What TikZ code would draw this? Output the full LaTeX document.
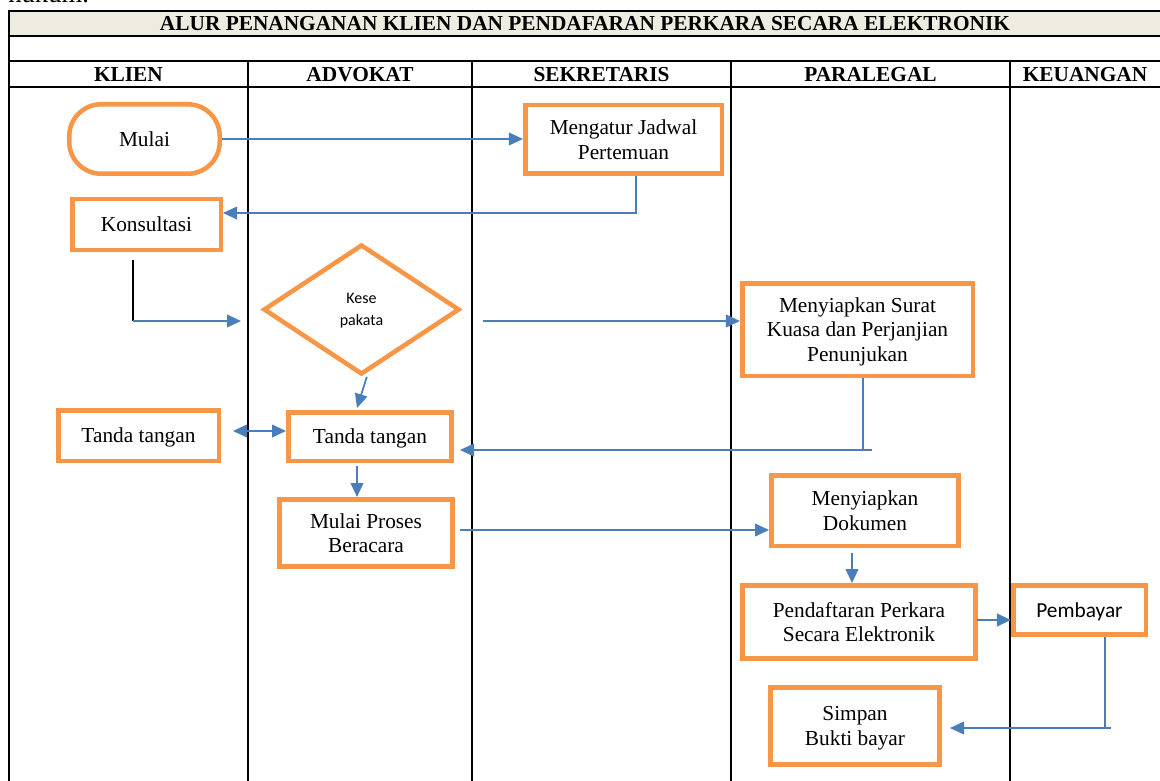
\documentclass[tikz,border=0pt]{standalone}
\usepackage{fontspec}
\setmainfont{Liberation Serif}
\newfontfamily\calfont{Carlito}
\usetikzlibrary{shapes.geometric,arrows.meta}
\definecolor{orng}{HTML}{F79646}
\definecolor{blu}{HTML}{4A7EBB}
\definecolor{beige}{HTML}{EEECE1}
\begin{document}
\begin{tikzpicture}[x=0.75pt,y=-0.75pt,
 box/.style={draw=orng, fill=white, line width=3.4pt, rectangle, align=center, inner sep=0pt, text depth=0pt, font=\fontsize{16}{18.5}\selectfont},
 conn/.style={draw=blu, line width=1.3pt, -{Triangle[length=10.5pt,width=9.5pt]}},
 plain/.style={draw=blu, line width=1.3pt},
 grid/.style={draw=black, line width=1.5pt},
 hdr/.style={font=\bfseries\fontsize{16}{18}\selectfont, inner sep=0pt}]
\useasboundingbox (0,0) rectangle (1160,781);
\clip (0,0) rectangle (1160,781);
\fill[white] (0,0) rectangle (1160,781);
\node[anchor=base west, font=\fontsize{20}{20}\selectfont, inner sep=0pt] (hk) at (8,3) {hukum.};
% table
\fill[beige] (9,11) rectangle (1165,36);
\draw[grid] (9,800) -- (9,11) -- (1165,11);
\draw[grid] (9,36) -- (1165,36);
\draw[grid] (9,61) -- (1165,61);
\draw[grid] (9,87) -- (1165,87);
\foreach \x in {248,472,731,1010} \draw[grid] (\x,61) -- (\x,800);
\node[hdr] (title) at (585,24) {ALUR PENANGANAN KLIEN DAN PENDAFARAN PERKARA SECARA ELEKTRONIK};
\node[hdr] (h1) at (128.5,75) {KLIEN};
\node[hdr] (h2) at (360,75) {ADVOKAT};
\node[hdr] (h3) at (601.5,75) {SEKRETARIS};
\node[hdr] (h4) at (870.5,75) {PARALEGAL};
\node[hdr] (h5) at (1085,75) {KEUANGAN};
% nodes
\node[box, rounded corners=24pt, minimum width=112.9pt, minimum height=52.1pt] (mulai) at (144.5,139) {Mulai};
\node[box, minimum width=147.4pt, minimum height=51.4pt] (jadwal) at (623.5,139.5) {Mengatur Jadwal\\Pertemuan};
\node[box, minimum width=111.4pt, minimum height=37.9pt] (kons) at (146.5,224.5) {Konsultasi};
\node[box, diamond, minimum width=147pt, minimum height=97.5pt, font=\calfont\fontsize{12}{16}\selectfont] (dia) at (361.5,309.5) {Kese\\pakata};
\node[box, minimum width=172.9pt, minimum height=69.4pt] (surat) at (857.5,329.5) {Menyiapkan Surat\\Kuasa dan Perjanjian\\Penunjukan};
\node[box, minimum width=120.4pt, minimum height=37.9pt] (ttk) at (138.5,435.5) {Tanda tangan};
\node[box, minimum width=122.6pt, minimum height=36.4pt] (tta) at (370,436.5) {Tanda tangan};
\node[box, minimum width=130.1pt, minimum height=50.6pt] (proses) at (366,533) {Mulai Proses\\Beracara};
\node[box, minimum width=140.6pt, minimum height=52.9pt] (dok) at (865,510.5) {Menyiapkan\\Dokumen};
\node[box, minimum width=175.1pt, minimum height=55.1pt] (daftar) at (859,622) {Pendaftaran Perkara\\Secara Elektronik};
\node[box, minimum width=99.4pt, minimum height=37.1pt, font=\calfont\fontsize{16}{19}\selectfont] (bayar) at (1079.5,610) {Pembayar};
\node[box, minimum width=127.1pt, minimum height=58.1pt] (simpan) at (855,726) {Simpan\\Bukti bayar};
% connectors
\draw[conn] (mulai.east) -- (mulai.east -| jadwal.west);
\coordinate (j1) at (636,213);
\draw[conn] (jadwal.south -| j1) -- (j1) -- (j1 -| kons.east);
\coordinate (k1) at (133,260);
\coordinate (k2) at (133,321);
\coordinate (k3) at (241,321);
\draw[black, line width=1.3pt] (k1) -- (k2);
\draw[conn] (k2) -- (k3);
\coordinate (d1) at (483,321);
\draw[conn] (d1) -- (d1 -| surat.west);
\coordinate (s1) at (863,450);
\coordinate (s2) at (872,450);
\draw[plain] (surat.south -| s1) -- (s1);
\draw[conn, shorten >=4.5pt] (s2) -- (s2 -| tta.east);
\draw[conn] ([xshift=4pt]dia.south) -- ([xshift=-9.75pt,yshift=1.5pt]tta.north);
\coordinate (t1) at (233,431);
\draw[blu, line width=1.3pt, {Triangle[length=10.5pt,width=9.5pt]}-{Triangle[length=10.5pt,width=9.5pt]}] (t1) -- (t1 -| tta.west);
\coordinate (p1) at (357,466);
\draw[conn] (p1) -- (p1 |- proses.north);
\coordinate (m1) at (460,530);
\draw[conn] (m1) -- (m1 -| dok.west);
\coordinate (q1) at (852,553);
\draw[conn] (q1) -- (q1 |- daftar.north);
\coordinate (r1) at (977,620);
\draw[conn] (r1) -- (r1 -| bayar.west);
\coordinate (b1) at (1105,728);
\coordinate (b2) at (1111,728);
\draw[plain] (bayar.south -| b1) -- (b1);
\draw[conn, shorten >=6pt] (b2) -- (b2 -| simpan.east);
\end{tikzpicture}
\end{document}
